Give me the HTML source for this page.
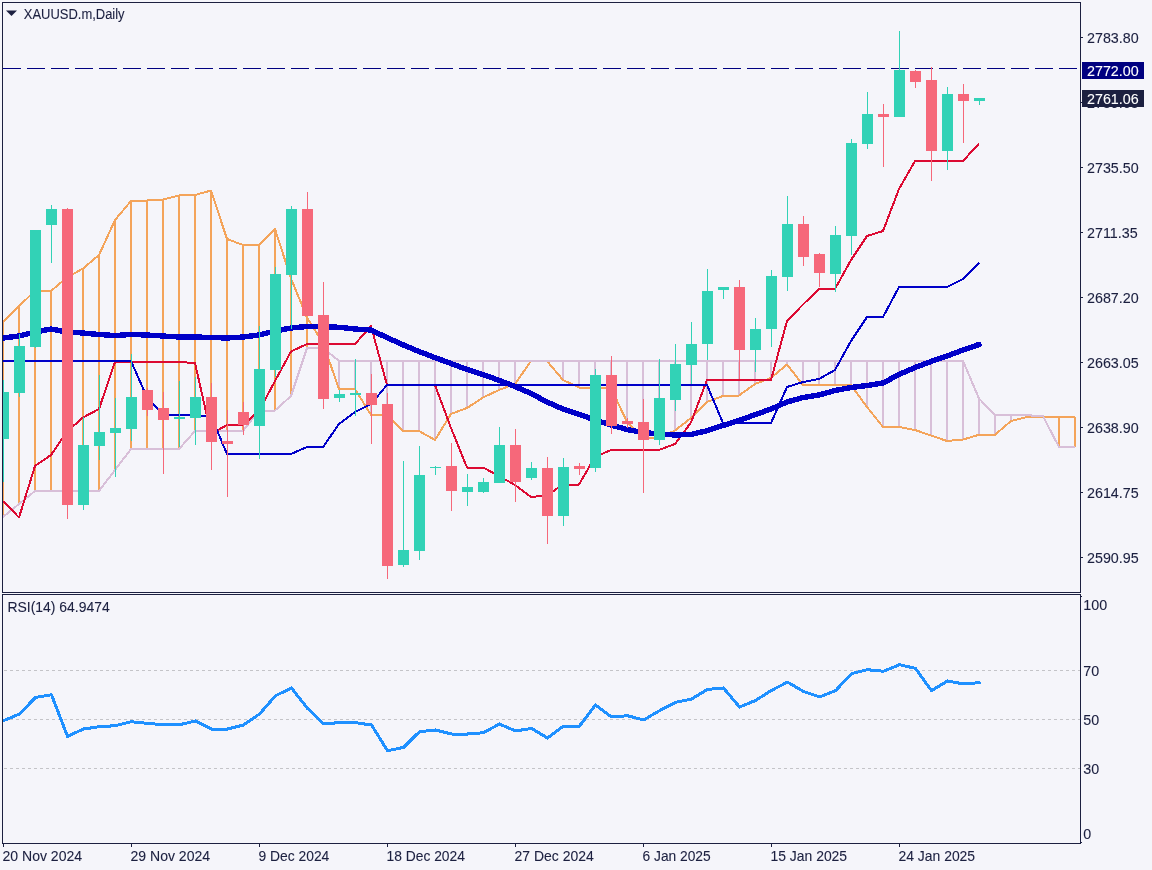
<!DOCTYPE html>
<html lang="en"><head><meta charset="utf-8"><title>XAUUSD.m, Daily</title>
<style>
html,body{margin:0;padding:0;background:#f5f5fa;}
body{width:1152px;height:870px;overflow:hidden;position:relative;font-family:"Liberation Sans",sans-serif;}
svg{position:absolute;left:0;top:0;display:block;}
text{font-family:"Liberation Sans",sans-serif;fill:#1c2040;stroke:#1c2040;stroke-width:0.1px;}
.ax{font-size:14.3px;}
.tt{font-size:14px;}
</style></head><body>
<svg width="1152" height="870" viewBox="0 0 1152 870">
<rect x="0" y="0" width="1152" height="870" fill="#f5f5fa"/>
<defs><clipPath id="cm"><rect x="3" y="3" width="1077" height="589"/></clipPath>
<clipPath id="cr"><rect x="3" y="595" width="1077" height="248"/></clipPath></defs>
<g clip-path="url(#cm)" shape-rendering="crispEdges">
<line x1="3" y1="68.5" x2="1080" y2="68.5" stroke="#000080" stroke-width="1" stroke-dasharray="18 6"/>
<rect x="2" y="322" width="2" height="195" fill="#f4a45a"/>
<rect x="18" y="306" width="2" height="198" fill="#f4a45a"/>
<rect x="34" y="291" width="2" height="200" fill="#f4a45a"/>
<rect x="50" y="291" width="2" height="200" fill="#f4a45a"/>
<rect x="66" y="277.5" width="2" height="213.5" fill="#f4a45a"/>
<rect x="82" y="268.5" width="2" height="222.5" fill="#f4a45a"/>
<rect x="98" y="255" width="2" height="236" fill="#f4a45a"/>
<rect x="114" y="220" width="2" height="250" fill="#f4a45a"/>
<rect x="130" y="201" width="2" height="248" fill="#f4a45a"/>
<rect x="146" y="200.5" width="2" height="248.5" fill="#f4a45a"/>
<rect x="162" y="199.5" width="2" height="249.5" fill="#f4a45a"/>
<rect x="178" y="195.5" width="2" height="253.5" fill="#f4a45a"/>
<rect x="194" y="195" width="2" height="236" fill="#f4a45a"/>
<rect x="210" y="190.5" width="2" height="240.5" fill="#f4a45a"/>
<rect x="226" y="239" width="2" height="192" fill="#f4a45a"/>
<rect x="242" y="245" width="2" height="186" fill="#f4a45a"/>
<rect x="258" y="245" width="2" height="165.5" fill="#f4a45a"/>
<rect x="274" y="229" width="2" height="181.5" fill="#f4a45a"/>
<rect x="290" y="278.5" width="2" height="117.5" fill="#f4a45a"/>
<rect x="306" y="317.5" width="2" height="30.5" fill="#f4a45a"/>
<rect x="322" y="343" width="2" height="5" fill="#f4a45a"/>
<rect x="338" y="361" width="2" height="28" fill="#d8bfd8"/>
<rect x="354" y="361" width="2" height="28" fill="#d8bfd8"/>
<rect x="370" y="361" width="2" height="54" fill="#d8bfd8"/>
<rect x="386" y="361" width="2" height="54" fill="#d8bfd8"/>
<rect x="402" y="361" width="2" height="70" fill="#d8bfd8"/>
<rect x="418" y="361" width="2" height="70" fill="#d8bfd8"/>
<rect x="434" y="361" width="2" height="79" fill="#d8bfd8"/>
<rect x="450" y="361" width="2" height="53" fill="#d8bfd8"/>
<rect x="466" y="361" width="2" height="47" fill="#d8bfd8"/>
<rect x="482" y="361" width="2" height="36.5" fill="#d8bfd8"/>
<rect x="498" y="361" width="2" height="29" fill="#d8bfd8"/>
<rect x="514" y="361" width="2" height="23" fill="#d8bfd8"/>
<rect x="562" y="361" width="2" height="19" fill="#d8bfd8"/>
<rect x="578" y="361" width="2" height="26.5" fill="#d8bfd8"/>
<rect x="594" y="361" width="2" height="26.5" fill="#d8bfd8"/>
<rect x="610" y="361" width="2" height="27" fill="#d8bfd8"/>
<rect x="626" y="361" width="2" height="61" fill="#d8bfd8"/>
<rect x="642" y="361" width="2" height="77" fill="#d8bfd8"/>
<rect x="658" y="361" width="2" height="77" fill="#d8bfd8"/>
<rect x="674" y="361" width="2" height="69.5" fill="#d8bfd8"/>
<rect x="690" y="361" width="2" height="57" fill="#d8bfd8"/>
<rect x="706" y="361" width="2" height="41" fill="#d8bfd8"/>
<rect x="722" y="361" width="2" height="35" fill="#d8bfd8"/>
<rect x="738" y="361" width="2" height="34.5" fill="#d8bfd8"/>
<rect x="754" y="361" width="2" height="23" fill="#d8bfd8"/>
<rect x="770" y="361" width="2" height="17" fill="#d8bfd8"/>
<rect x="786" y="361" width="2" height="3.5" fill="#d8bfd8"/>
<rect x="802" y="361" width="2" height="24" fill="#d8bfd8"/>
<rect x="818" y="361" width="2" height="24" fill="#d8bfd8"/>
<rect x="834" y="361" width="2" height="24" fill="#d8bfd8"/>
<rect x="850" y="361" width="2" height="24" fill="#d8bfd8"/>
<rect x="866" y="361" width="2" height="46" fill="#d8bfd8"/>
<rect x="882" y="361" width="2" height="66" fill="#d8bfd8"/>
<rect x="898" y="361" width="2" height="66" fill="#d8bfd8"/>
<rect x="914" y="361" width="2" height="69" fill="#d8bfd8"/>
<rect x="930" y="361" width="2" height="74.5" fill="#d8bfd8"/>
<rect x="946" y="361" width="2" height="80" fill="#d8bfd8"/>
<rect x="962" y="361" width="2" height="78.5" fill="#d8bfd8"/>
<rect x="978" y="398.5" width="2" height="36.3" fill="#d8bfd8"/>
<rect x="994" y="415" width="2" height="19.8" fill="#d8bfd8"/>
<rect x="1010" y="415" width="2" height="6" fill="#d8bfd8"/>
<rect x="1026" y="415.2" width="2" height="1.8" fill="#d8bfd8"/>
<rect x="1058" y="417" width="2" height="30" fill="#f4a45a"/>
<rect x="1074" y="417" width="2" height="30" fill="#f4a45a"/>
<polyline points="3,322 19,306 35,291 51,291 67,277.5 83,268.5 99,255 115,220 131,201 147,200.5 163,199.5 179,195.5 195,195 211,190.5 227,239 243,245 259,245 275,229 291,278.5 307,317.5 323,343 339,389 355,389 371,415 387,415 403,431 419,431 435,440 451,414 467,408 483,397.5 499,390 515,384 531,361 547,361 563,380 579,387.5 595,387.5 611,388 627,422 643,438 659,438 675,430.5 691,418 707,402 723,396 739,395.5 755,384 771,378 787,364.5 803,385 819,385 835,385 851,385 867,407 883,427 899,427 915,430 931,435.5 947,441 963,439.5 979,434.8 995,434.8 1011,421 1027,417 1043,417 1059,417 1075,417" fill="none" stroke="#f4a45a" stroke-width="2"  stroke-linejoin="round"/>
<polyline points="3,517 19,504 35,491 51,491 67,491 83,491 99,491 115,470 131,449 147,449 163,449 179,449 195,431 211,431 227,431 243,431 259,410.5 275,410.5 291,396 307,348 323,348 339,361 355,361 371,361 387,361 403,361 419,361 435,361 451,361 467,361 483,361 499,361 515,361 531,361 547,361 563,361 579,361 595,361 611,361 627,361 643,361 659,361 675,361 691,361 707,361 723,361 739,361 755,361 771,361 787,361 803,361 819,361 835,361 851,361 867,361 883,361 899,361 915,361 931,361 947,361 963,361 979,398.5 995,415 1011,415 1027,415.2 1043,416.3 1059,447 1075,447" fill="none" stroke="#d8bfd8" stroke-width="2"  stroke-linejoin="round"/>
<polyline points="3,501 19,517.5 35,466 51,455 67,431.5 83,417.5 99,409 115,362 131,362 147,362 163,362 179,362 195,363 211,434 227,425 243,425 259,411 275,381 291,351.5 307,344 323,344 339,344 355,344 371,326 387,385 403,385 419,385 435,385 451,428 467,467.5 483,467.5 499,476 515,485 531,497 547,495.5 563,484.5 579,484.5 595,457 611,450 627,450 643,450 659,450 675,444 691,422.5 707,380 723,380 739,380 755,380 771,380 787,321 803,304.5 819,289 835,289 851,260 867,236 883,231 899,189 915,161 931,161 947,161 963,161 979,143.5" fill="none" stroke="#dc0a32" stroke-width="2"  stroke-linejoin="round"/>
<polyline points="3,361 19,361 35,361 51,361 67,361 83,361 99,361 115,361 131,361 147,397.5 163,415 179,415 195,415.5 211,416 227,454 243,454 259,454 275,454 291,454 307,447 323,447 339,424 355,412 371,404 387,385 403,385 419,385 435,385 451,385 467,385 483,385 499,385 515,385 531,385 547,385 563,385 579,385 595,385 611,385 627,385 643,385 659,385 675,385 691,385 707,385 723,423 739,423 755,423 771,423 787,387 803,382 819,379 835,370 851,341 867,317 883,317 899,287 915,287 931,287 947,287 963,279 979,263" fill="none" stroke="#0000c8" stroke-width="2"  stroke-linejoin="round"/>
</g>
<g clip-path="url(#cm)" shape-rendering="crispEdges">
<polyline points="3,338 19,336 35,332 51,329 67,332 83,333 99,334.5 115,335.5 131,334.5 147,335 163,336 179,337 195,337 211,337.5 227,338 243,337 259,335 275,331 291,328 307,326.5 323,326.5 339,327.3 355,329 371,330 387,337.6 403,344.8 419,351.5 435,357.6 451,363.5 467,369.5 483,374.5 499,380.3 515,386.5 531,393.5 547,402 563,409 579,414.3 595,420 611,425 627,429.5 643,432.5 659,434 675,435 691,434.5 707,430.7 723,425.5 739,420.5 755,414.7 771,409 787,402 803,397.5 819,395 835,390.5 851,387.5 867,385.5 883,383 899,374.5 915,367.5 931,361.5 947,356 963,350 979,344.5" fill="none" stroke="#0000c8" stroke-width="5.4" stroke-linecap="round" stroke-linejoin="round" />
</g>
<g clip-path="url(#cm)" shape-rendering="crispEdges">
<rect x="3" y="380" width="1" height="102" fill="#32d2b6"/>
<rect x="-2" y="392" width="11" height="47" fill="#32d2b6"/>
<rect x="19" y="334" width="1" height="63" fill="#32d2b6"/>
<rect x="14" y="346" width="11" height="47" fill="#32d2b6"/>
<rect x="35" y="230" width="1" height="118" fill="#32d2b6"/>
<rect x="30" y="230" width="11" height="117" fill="#32d2b6"/>
<rect x="51" y="205" width="1" height="58" fill="#32d2b6"/>
<rect x="46" y="209" width="11" height="16" fill="#32d2b6"/>
<rect x="67" y="208" width="1" height="311" fill="#f6687a"/>
<rect x="62" y="209" width="11" height="296" fill="#f6687a"/>
<rect x="83" y="417" width="1" height="93" fill="#32d2b6"/>
<rect x="78" y="445" width="11" height="60" fill="#32d2b6"/>
<rect x="99" y="375" width="1" height="85" fill="#32d2b6"/>
<rect x="94" y="432" width="11" height="14" fill="#32d2b6"/>
<rect x="115" y="398" width="1" height="79" fill="#32d2b6"/>
<rect x="110" y="428" width="11" height="5" fill="#32d2b6"/>
<rect x="131" y="354" width="1" height="87" fill="#32d2b6"/>
<rect x="126" y="397" width="11" height="32" fill="#32d2b6"/>
<rect x="147" y="388" width="1" height="28" fill="#f6687a"/>
<rect x="142" y="390" width="11" height="20" fill="#f6687a"/>
<rect x="163" y="392" width="1" height="82" fill="#f6687a"/>
<rect x="158" y="408" width="11" height="12" fill="#f6687a"/>
<rect x="179" y="381" width="1" height="66" fill="#32d2b6"/>
<rect x="174" y="417" width="11" height="2" fill="#32d2b6"/>
<rect x="195" y="377" width="1" height="68" fill="#32d2b6"/>
<rect x="190" y="397" width="11" height="21" fill="#32d2b6"/>
<rect x="211" y="383" width="1" height="87" fill="#f6687a"/>
<rect x="206" y="397" width="11" height="45" fill="#f6687a"/>
<rect x="227" y="410" width="1" height="87" fill="#f6687a"/>
<rect x="222" y="441" width="11" height="3" fill="#f6687a"/>
<rect x="243" y="402" width="1" height="33" fill="#f6687a"/>
<rect x="238" y="412" width="11" height="13" fill="#f6687a"/>
<rect x="259" y="326" width="1" height="133" fill="#32d2b6"/>
<rect x="254" y="369" width="11" height="57" fill="#32d2b6"/>
<rect x="275" y="267" width="1" height="110" fill="#32d2b6"/>
<rect x="270" y="274" width="11" height="96" fill="#32d2b6"/>
<rect x="291" y="206" width="1" height="123" fill="#32d2b6"/>
<rect x="286" y="209" width="11" height="66" fill="#32d2b6"/>
<rect x="307" y="192" width="1" height="124" fill="#f6687a"/>
<rect x="302" y="209" width="11" height="107" fill="#f6687a"/>
<rect x="323" y="282" width="1" height="127" fill="#f6687a"/>
<rect x="318" y="315" width="11" height="84" fill="#f6687a"/>
<rect x="339" y="390" width="1" height="12" fill="#32d2b6"/>
<rect x="334" y="394" width="11" height="4" fill="#32d2b6"/>
<rect x="355" y="359" width="1" height="57" fill="#32d2b6"/>
<rect x="350" y="393" width="11" height="2" fill="#32d2b6"/>
<rect x="371" y="374" width="1" height="70" fill="#f6687a"/>
<rect x="366" y="393" width="11" height="12" fill="#f6687a"/>
<rect x="387" y="393" width="1" height="186" fill="#f6687a"/>
<rect x="382" y="404" width="11" height="162" fill="#f6687a"/>
<rect x="403" y="461" width="1" height="106" fill="#32d2b6"/>
<rect x="398" y="550" width="11" height="15" fill="#32d2b6"/>
<rect x="419" y="446" width="1" height="114" fill="#32d2b6"/>
<rect x="414" y="475" width="11" height="76" fill="#32d2b6"/>
<rect x="435" y="466" width="1" height="9" fill="#32d2b6"/>
<rect x="430" y="467" width="11" height="1" fill="#32d2b6"/>
<rect x="451" y="443" width="1" height="68" fill="#f6687a"/>
<rect x="446" y="466" width="11" height="25" fill="#f6687a"/>
<rect x="467" y="474" width="1" height="32" fill="#32d2b6"/>
<rect x="462" y="487" width="11" height="5" fill="#32d2b6"/>
<rect x="483" y="478" width="1" height="15" fill="#32d2b6"/>
<rect x="478" y="482" width="11" height="10" fill="#32d2b6"/>
<rect x="499" y="427" width="1" height="56" fill="#32d2b6"/>
<rect x="494" y="445" width="11" height="38" fill="#32d2b6"/>
<rect x="515" y="429" width="1" height="73" fill="#f6687a"/>
<rect x="510" y="445" width="11" height="37" fill="#f6687a"/>
<rect x="531" y="462" width="1" height="18" fill="#32d2b6"/>
<rect x="526" y="468" width="11" height="10" fill="#32d2b6"/>
<rect x="547" y="457" width="1" height="87" fill="#f6687a"/>
<rect x="542" y="468" width="11" height="48" fill="#f6687a"/>
<rect x="563" y="458" width="1" height="68" fill="#32d2b6"/>
<rect x="558" y="467" width="11" height="49" fill="#32d2b6"/>
<rect x="579" y="463" width="1" height="12" fill="#f6687a"/>
<rect x="574" y="466" width="11" height="3" fill="#f6687a"/>
<rect x="595" y="369" width="1" height="103" fill="#32d2b6"/>
<rect x="590" y="375" width="11" height="93" fill="#32d2b6"/>
<rect x="611" y="356" width="1" height="78" fill="#f6687a"/>
<rect x="606" y="375" width="11" height="51" fill="#f6687a"/>
<rect x="627" y="418" width="1" height="10" fill="#f6687a"/>
<rect x="622" y="421" width="11" height="3" fill="#f6687a"/>
<rect x="643" y="399" width="1" height="94" fill="#f6687a"/>
<rect x="638" y="422" width="11" height="18" fill="#f6687a"/>
<rect x="659" y="359" width="1" height="86" fill="#32d2b6"/>
<rect x="654" y="398" width="11" height="42" fill="#32d2b6"/>
<rect x="675" y="344" width="1" height="67" fill="#32d2b6"/>
<rect x="670" y="364" width="11" height="36" fill="#32d2b6"/>
<rect x="691" y="322" width="1" height="62" fill="#32d2b6"/>
<rect x="686" y="344" width="11" height="21" fill="#32d2b6"/>
<rect x="707" y="269" width="1" height="91" fill="#32d2b6"/>
<rect x="702" y="291" width="11" height="53" fill="#32d2b6"/>
<rect x="723" y="287" width="1" height="12" fill="#32d2b6"/>
<rect x="718" y="287" width="11" height="3" fill="#32d2b6"/>
<rect x="739" y="280" width="1" height="99" fill="#f6687a"/>
<rect x="734" y="287" width="11" height="63" fill="#f6687a"/>
<rect x="755" y="318" width="1" height="54" fill="#32d2b6"/>
<rect x="750" y="329" width="11" height="21" fill="#32d2b6"/>
<rect x="771" y="270" width="1" height="77" fill="#32d2b6"/>
<rect x="766" y="276" width="11" height="53" fill="#32d2b6"/>
<rect x="787" y="196" width="1" height="95" fill="#32d2b6"/>
<rect x="782" y="224" width="11" height="53" fill="#32d2b6"/>
<rect x="803" y="216" width="1" height="50" fill="#f6687a"/>
<rect x="798" y="224" width="11" height="33" fill="#f6687a"/>
<rect x="819" y="253" width="1" height="34" fill="#f6687a"/>
<rect x="814" y="254" width="11" height="19" fill="#f6687a"/>
<rect x="835" y="226" width="1" height="66" fill="#32d2b6"/>
<rect x="830" y="235" width="11" height="39" fill="#32d2b6"/>
<rect x="851" y="139" width="1" height="116" fill="#32d2b6"/>
<rect x="846" y="143" width="11" height="93" fill="#32d2b6"/>
<rect x="867" y="92" width="1" height="57" fill="#32d2b6"/>
<rect x="862" y="114" width="11" height="30" fill="#32d2b6"/>
<rect x="883" y="104" width="1" height="63" fill="#f6687a"/>
<rect x="878" y="114" width="11" height="3" fill="#f6687a"/>
<rect x="899" y="31" width="1" height="86" fill="#32d2b6"/>
<rect x="894" y="70" width="11" height="47" fill="#32d2b6"/>
<rect x="915" y="70" width="1" height="18" fill="#f6687a"/>
<rect x="910" y="71" width="11" height="11" fill="#f6687a"/>
<rect x="931" y="67" width="1" height="114" fill="#f6687a"/>
<rect x="926" y="80" width="11" height="71" fill="#f6687a"/>
<rect x="947" y="87" width="1" height="83" fill="#32d2b6"/>
<rect x="942" y="94" width="11" height="57" fill="#32d2b6"/>
<rect x="963" y="84" width="1" height="59" fill="#f6687a"/>
<rect x="958" y="94" width="11" height="7" fill="#f6687a"/>
<rect x="979" y="98" width="1" height="7" fill="#32d2b6"/>
<rect x="974" y="98" width="11" height="3" fill="#32d2b6"/>
</g>
<g shape-rendering="crispEdges">
<line x1="4" y1="670.5" x2="1080" y2="670.5" stroke="#c4c4c8" stroke-width="1" stroke-dasharray="3 3"/>
<line x1="4" y1="719.5" x2="1080" y2="719.5" stroke="#c4c4c8" stroke-width="1" stroke-dasharray="3 3"/>
<line x1="4" y1="768.5" x2="1080" y2="768.5" stroke="#c4c4c8" stroke-width="1" stroke-dasharray="3 3"/>
</g>
<g clip-path="url(#cr)">
<polyline points="3.5,720.7 19.5,714 35.5,697.4 51.5,694.7 67.5,736.4 83.5,729 99.5,726.7 115.5,725.7 131.5,721.7 147.5,723.4 163.5,724.7 179.5,724.7 195.5,721 211.5,729 227.5,729 243.5,725 259.5,714 275.5,695.7 291.5,688 307.5,708.4 323.5,723.7 339.5,722.7 355.5,722.7 371.5,725 387.5,750.7 403.5,747.4 419.5,731.7 435.5,730 451.5,734 467.5,734 483.5,732.7 499.5,724 515.5,731 531.5,728.4 547.5,738 563.5,726 579.5,726 595.5,705 611.5,717 627.5,715.7 643.5,720 659.5,710.7 675.5,702.4 691.5,699 707.5,689.4 723.5,688 739.5,707 755.5,700.5 771.5,690.4 787.5,682.1 803.5,691.5 819.5,696.9 835.5,690.7 851.5,673.7 867.5,669.7 883.5,671.3 899.5,664.7 915.5,668.4 931.5,690.7 947.5,681 963.5,683.9 979.5,682.7" fill="none" stroke="#1e90ff" stroke-width="3" stroke-linejoin="round" stroke-linecap="round" shape-rendering="crispEdges" />
</g>
<g shape-rendering="crispEdges" fill="#1c2040">
<rect x="2" y="2" width="1079" height="1"/>
<rect x="2" y="2" width="1" height="591"/>
<rect x="2" y="592" width="1079" height="1"/>
<rect x="2" y="594" width="1079" height="1"/>
<rect x="2" y="594" width="1" height="250"/>
<rect x="2" y="843" width="1079" height="1"/>
<rect x="1080" y="2" width="1" height="591"/>
<rect x="1080" y="594" width="1" height="250"/>
<rect x="1081" y="37" width="2" height="1"/>
<rect x="1081" y="102" width="2" height="1"/>
<rect x="1081" y="167" width="2" height="1"/>
<rect x="1081" y="232" width="2" height="1"/>
<rect x="1081" y="297" width="2" height="1"/>
<rect x="1081" y="362" width="2" height="1"/>
<rect x="1081" y="427" width="2" height="1"/>
<rect x="1081" y="492" width="2" height="1"/>
<rect x="1081" y="557" width="2" height="1"/>
<rect x="1081" y="596" width="1" height="1"/>
<rect x="1081" y="842" width="1" height="1"/>
<rect x="3" y="844" width="1" height="3"/>
<rect x="131" y="844" width="1" height="3"/>
<rect x="259" y="844" width="1" height="3"/>
<rect x="387" y="844" width="1" height="3"/>
<rect x="515" y="844" width="1" height="3"/>
<rect x="643" y="844" width="1" height="3"/>
<rect x="771" y="844" width="1" height="3"/>
<rect x="899" y="844" width="1" height="3"/>
</g>
<text class="ax" x="1087" y="43.1">2783.80</text>
<text class="ax" x="1087" y="108.1">2759.65</text>
<text class="ax" x="1087" y="173.1">2735.50</text>
<text class="ax" x="1087" y="238.1">2711.35</text>
<text class="ax" x="1087" y="303.1">2687.20</text>
<text class="ax" x="1087" y="368.1">2663.05</text>
<text class="ax" x="1087" y="433.1">2638.90</text>
<text class="ax" x="1087" y="498.1">2614.75</text>
<text class="ax" x="1087" y="563.1">2590.95</text>
<rect x="1082" y="62" width="62" height="17" fill="#000080"/>
<text class="ax" x="1087" y="75.6" style="fill:#ffffff;stroke:#ffffff">2772.00</text>
<rect x="1082" y="90" width="62" height="17" fill="#1c2040"/>
<text class="ax" x="1087" y="103.9" style="fill:#ffffff;stroke:#ffffff">2761.06</text>
<text class="ax" x="1083.3" y="610.1">100</text>
<text class="ax" x="1083.3" y="676.1">70</text>
<text class="ax" x="1083.3" y="725.1">50</text>
<text class="ax" x="1083.3" y="774.1">30</text>
<text class="ax" x="1083.3" y="839.1">0</text>
<text class="ax" x="2.5" y="861" textLength="79.6" lengthAdjust="spacingAndGlyphs">20 Nov 2024</text>
<text class="ax" x="130.5" y="861" textLength="79.6" lengthAdjust="spacingAndGlyphs">29 Nov 2024</text>
<text class="ax" x="258.5" y="861" textLength="70.8" lengthAdjust="spacingAndGlyphs">9 Dec 2024</text>
<text class="ax" x="386.5" y="861" textLength="78.4" lengthAdjust="spacingAndGlyphs">18 Dec 2024</text>
<text class="ax" x="514.5" y="861" textLength="79.2" lengthAdjust="spacingAndGlyphs">27 Dec 2024</text>
<text class="ax" x="642.5" y="861" textLength="68.2" lengthAdjust="spacingAndGlyphs">6 Jan 2025</text>
<text class="ax" x="770.5" y="861" textLength="76.6" lengthAdjust="spacingAndGlyphs">15 Jan 2025</text>
<text class="ax" x="898.5" y="861" textLength="76.6" lengthAdjust="spacingAndGlyphs">24 Jan 2025</text>
<path d="M6 10.5 L17 10.5 L11.5 16 Z" fill="#1c2040"/>
<text class="tt" x="23.8" y="18.6" textLength="100.8" lengthAdjust="spacingAndGlyphs">XAUUSD.m,Daily</text>
<text class="tt" x="7.5" y="611.9" textLength="102.2" lengthAdjust="spacingAndGlyphs">RSI(14) 64.9474</text>
</svg>
</body></html>
